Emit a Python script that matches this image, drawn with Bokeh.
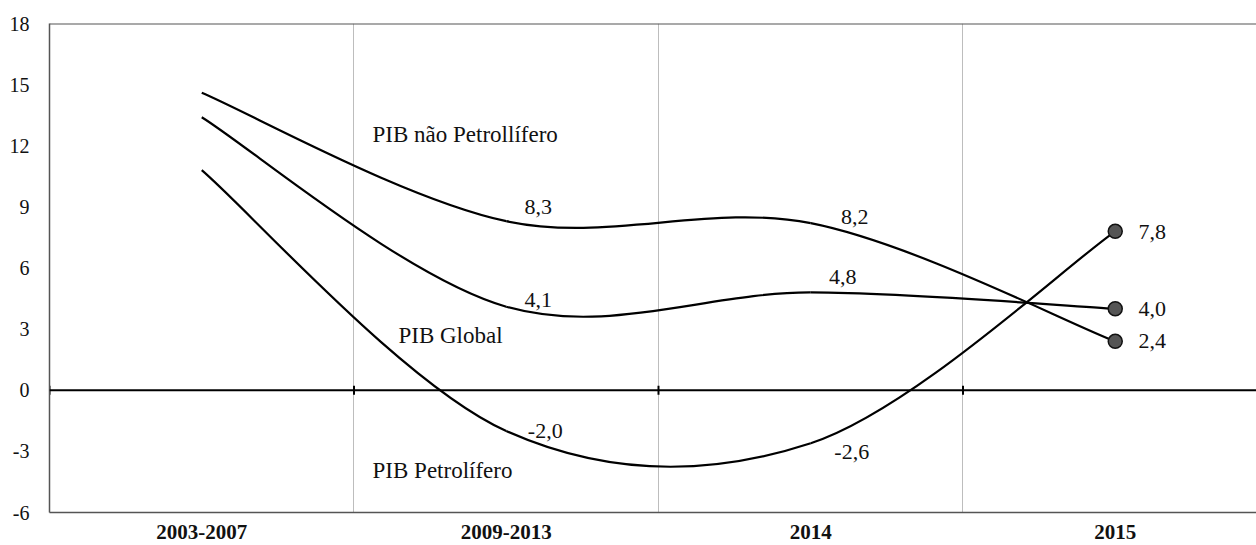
import numpy as np
from bokeh.plotting import figure
from bokeh.models import Range1d, FixedTicker, Span, Label, ColumnDataSource
from bokeh.embed import file_html
from bokeh.resources import INLINE
from bokeh.core.properties import value

# ---------------- data ----------------
categories = ["2003-2007", "2009-2013", "2014", "2015"]
pib_nao_petrolifero = [14.6, 8.3, 8.2, 2.4]
pib_global = [13.4, 4.1, 4.8, 4.0]
pib_petrolifero = [10.8, -2.0, -2.6, 7.8]
series_names = ["PIB não Petrollífero", "PIB Global", "PIB Petrolífero"]
y_ticks = [-6, -3, 0, 3, 6, 9, 12, 15, 18]

# ---------------- styles ----------------
FONT = "'Liberation Serif'"
LINE_COLOR = "#000000"
BORDER = "#555555"
# label offsets in screen px (x right, y down) for points 2..4 of each series
lab_off_nao = [(32, -14), (44, -6), (37, 0)]
lab_off_glob = [(32, -7), (32, -15), (37, 0)]
lab_off_pet = [(39, 0), (41, 9), (37, 1)]

ncat = len(categories)
xc = np.arange(ncat) + 0.5  # category centres

p = figure(width=1256, height=545,
           x_range=Range1d(0, 3.9639), y_range=Range1d(-6, 18),
           output_backend="svg", toolbar_location=None,
           min_border_left=49, min_border_top=23,
           min_border_right=0, min_border_bottom=33)
p.outline_line_color = None
p.background_fill_color = "white"

# grid: vertical lines at category boundaries
p.ygrid.visible = False
p.xgrid.ticker = FixedTicker(ticks=list(np.arange(1, ncat)))
p.xgrid.grid_line_color = "#bdbdbd"
p.xgrid.grid_line_width = 1

# y axis
p.yaxis.ticker = FixedTicker(ticks=y_ticks)
p.yaxis.major_label_overrides = {t: str(t) for t in y_ticks}
p.yaxis.major_tick_line_color = None
p.yaxis.minor_tick_line_color = None
p.yaxis.axis_line_color = BORDER
p.yaxis.axis_line_width = 1.5
p.yaxis.major_label_standoff = 14
p.yaxis.major_label_text_font = FONT
p.yaxis.major_label_text_font_size = "20px"
p.yaxis.major_label_text_color = "#111111"

# x axis with category labels
p.xaxis.ticker = FixedTicker(ticks=list(xc))
p.xaxis.major_label_overrides = {float(x): c for x, c in zip(xc, categories)}
p.xaxis.major_tick_line_color = None
p.xaxis.minor_tick_line_color = None
p.xaxis.axis_line_color = BORDER
p.xaxis.axis_line_width = 1.5
p.xaxis.major_label_standoff = 6
p.xaxis.major_label_text_font = FONT
p.xaxis.major_label_text_font_size = "21px"
p.xaxis.major_label_text_font_style = "bold"
p.xaxis.major_label_text_color = "#111111"

# top border
p.add_layout(Span(location=y_ticks[-1], dimension="width", line_color=BORDER, line_width=2))
# zero line with crossing ticks
p.add_layout(Span(location=0, dimension="width", line_color="black", line_width=2))
p.scatter(x=list(np.arange(0, ncat)), y=[0] * ncat, marker="dash", angle=np.pi / 2,
          size=9, line_color="black", line_width=2)


def smooth_segments(xs, ys):
    P = np.column_stack([xs, ys]).astype(float)
    n = len(P)
    Pm = np.vstack([P[0], P, P[-1]])
    out = {k: [] for k in ["x0", "y0", "x1", "y1", "cx0", "cy0", "cx1", "cy1"]}
    for i in range(n - 1):
        a, b = P[i], P[i + 1]
        prev, nxt = Pm[i], Pm[i + 3]
        c1 = a + (b - prev) / 6.0
        c2 = b - (nxt - a) / 6.0
        out["x0"].append(a[0]); out["y0"].append(a[1])
        out["x1"].append(b[0]); out["y1"].append(b[1])
        out["cx0"].append(c1[0]); out["cy0"].append(c1[1])
        out["cx1"].append(c2[0]); out["cy1"].append(c2[1])
    return ColumnDataSource(out)


for ys in [pib_nao_petrolifero, pib_global, pib_petrolifero]:
    src = smooth_segments(xc, ys)
    p.bezier(x0="x0", y0="y0", x1="x1", y1="y1", cx0="cx0", cy0="cy0",
             cx1="cx1", cy1="cy1", source=src, line_color=LINE_COLOR, line_width=2.2)

# end markers (2015)
last = [pib_nao_petrolifero[-1], pib_global[-1], pib_petrolifero[-1]]
p.scatter(x=[xc[-1]] * 3, y=last, size=14, fill_color="#555555",
          line_color="#111111", line_width=1.5)

# value labels
lx, ly, lt, ox, oy = [], [], [], [], []
for ys, offs in [(pib_nao_petrolifero, lab_off_nao), (pib_global, lab_off_glob),
                 (pib_petrolifero, lab_off_pet)]:
    for j in range(1, ncat):
        lx.append(xc[j]); ly.append(ys[j])
        lt.append(f"{ys[j]:.1f}".replace(".", ","))
        ox.append(offs[j - 1][0]); oy.append(offs[j - 1][1])
lab_src = ColumnDataSource(dict(x=lx, y=ly, text=lt, ox=ox, oy=oy))
p.text(x="x", y="y", text="text", x_offset="ox", y_offset="oy", source=lab_src,
       text_font=value(FONT), text_font_size="22px", text_align="center",
       text_baseline="middle", text_color="#111111")

# series name labels
name_pos = [(1.061, 12.54), (1.146, 2.7), (1.061, -3.93)]
for name, (nx, ny) in zip(series_names, name_pos):
    p.add_layout(Label(x=nx, y=ny, text=name, text_font=FONT, text_font_size="23px",
                       text_align="left", text_baseline="middle", text_color="#111111"))

open("out.html", "w").write(file_html(p, INLINE))
